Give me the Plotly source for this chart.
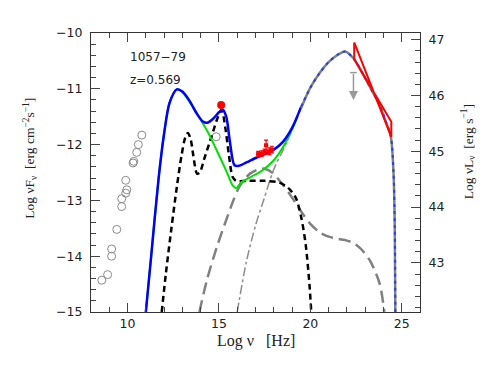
import numpy as np
import plotly.graph_objects as go

# archival radio / IR points (open grey circles)
arch_x = [8.59, 8.91, 9.13, 9.13, 9.41, 9.68, 9.68, 9.90, 9.96, 9.90, 10.30, 10.34, 10.50, 10.59, 10.78, 14.85]
arch_y = [-14.43, -14.33, -14.00, -13.87, -13.52, -13.11, -12.97, -12.87, -12.81, -12.64, -12.33, -12.30, -12.14, -12.00, -11.83, -11.86]

# simultaneous optical/UV point and X-ray spectrum (red)
opt_x = [15.12]
opt_y = [-11.29]
xray_x = [17.15, 17.33, 17.50, 17.58, 17.75, 17.90]
xray_y = [-12.17, -12.16, -12.13, -12.01, -12.12, -12.09]
xray_ex = [0.08, 0.08, 0.08, 0.08, 0.08, 0.08]
xray_ey = [0.05, 0.05, 0.05, 0.09, 0.06, 0.06]

# gamma-ray bowtie and upper limit
lat_x = [22.40, 24.43, 24.43, 22.40, 22.40]
lat_y = [-10.17, -11.86, -11.59, -10.47, -10.17]
ul_x = [22.36]
ul_top = [-10.71]
ul_tip = [-11.20]

# model components
tot_x = np.array([11.0, 11.3, 11.7, 12.0, 12.3, 12.7, 13.0, 13.4, 13.8, 14.1, 14.35, 14.7, 15.0, 15.2, 15.4, 15.6,
                  15.85, 16.1, 16.5, 17.0, 17.5, 18.0, 18.5, 19.0, 19.5, 20.0, 20.5, 21.0, 21.5, 21.9, 22.4, 22.9,
                  23.4, 23.8, 24.1, 24.4, 24.55, 24.62, 24.65])
tot_y = np.array([-15, -13.97, -12.6, -11.8, -11.25, -11.01, -11.05, -11.22, -11.45, -11.58, -11.61, -11.53, -11.42,
                  -11.37, -11.5, -11.95, -12.37, -12.38, -12.32, -12.24, -12.17, -12.09, -11.95, -11.70, -11.32,
                  -10.98, -10.72, -10.52, -10.39, -10.33, -10.47, -10.75, -11.05, -11.3, -11.56, -11.85, -12.5,
                  -13.5, -15])

syn_x = [11.0, 11.3, 11.7, 12.0, 12.3, 12.7, 13.0, 13.4, 13.9, 14.4, 14.9, 15.4, 15.75, 15.95, 16.2, 16.8, 17.3,
         18.0, 18.5, 19.0, 19.3]
syn_y = [-15, -13.97, -12.6, -11.8, -11.25, -11.01, -11.06, -11.24, -11.5, -11.78, -12.12, -12.47, -12.73, -12.78,
         -12.68, -12.57, -12.48, -12.28, -12.05, -11.73, -11.5]

disk_x = [11.87, 12.1, 12.4, 12.7, 12.95, 13.15, 13.3, 13.45, 13.6, 13.8, 13.95, 14.2, 14.6, 14.95, 15.15, 15.35,
          15.55, 15.75, 15.95, 16.5, 17.5, 18.3, 18.8, 19.2, 19.5, 19.75, 19.95, 20.05]
disk_y = [-15, -14.3, -13.5, -12.75, -12.2, -11.88, -11.79, -11.9, -12.2, -12.52, -12.5, -12.25, -11.85, -11.5,
          -11.38, -11.7, -12.2, -12.58, -12.65, -12.65, -12.65, -12.68, -12.78, -12.95, -13.3, -13.8, -14.5, -15]

ssc_x = [13.93, 14.34, 14.88, 15.4, 15.79, 16.16, 16.7, 17.35, 17.9, 18.5, 19.0, 19.5, 20.0, 20.5, 21.0, 21.5,
         22.0, 22.4, 22.8, 23.3, 23.8, 24.05]
ssc_y = [-15, -14.43, -13.84, -13.35, -13.0, -12.73, -12.52, -12.43, -12.5, -12.72, -12.95, -13.2, -13.42, -13.57,
         -13.65, -13.69, -13.72, -13.77, -13.88, -14.1, -14.5, -15]

ec_x = np.array([16.0, 16.5, 17.0, 17.44, 17.98, 18.53, 19.0, 19.5, 20.0, 20.5, 21.0, 21.5, 21.9, 22.4, 22.9, 23.4,
                 23.8, 24.1, 24.4, 24.55, 24.62, 24.65])
ec_y = np.array([-15, -14.1, -13.45, -13.0, -12.46, -12.08, -11.74, -11.34, -10.98, -10.72, -10.52, -10.39, -10.33,
                 -10.47, -10.75, -11.05, -11.3, -11.56, -11.85, -12.5, -13.5, -15])

lum_offset = 57.12  # log(4 pi d_L^2) for z=0.569

fig = go.Figure()

fig.add_trace(go.Scatter(x=arch_x, y=arch_y, mode='markers',
                         marker=dict(symbol='circle-open', size=8, color='#8a8a8a', line=dict(width=1))))

sm = 0.8
fig.add_trace(go.Scatter(x=ssc_x, y=ssc_y, mode='lines', line_shape='spline', line_smoothing=sm,
                         line=dict(color='#808080', width=2.5, dash='12px,6px')))
lo = ec_x <= 19.5
hi = ec_x >= 19.5
fig.add_trace(go.Scatter(x=ec_x[lo], y=ec_y[lo], mode='lines', line_shape='spline', line_smoothing=sm,
                         line=dict(color='#8c8c8c', width=1.5, dash='dashdot')))
fig.add_trace(go.Scatter(x=disk_x, y=disk_y, mode='lines', line_shape='spline', line_smoothing=sm,
                         line=dict(color='black', width=2.5, dash='6px,4px')))
fig.add_trace(go.Scatter(x=syn_x, y=syn_y, mode='lines', line_shape='spline', line_smoothing=sm,
                         line=dict(color='#00e000', width=2)))
t_lo = tot_x <= 19.6
t_hi = tot_x >= 19.5
fig.add_trace(go.Scatter(x=tot_x[t_lo], y=tot_y[t_lo], mode='lines', line_shape='spline', line_smoothing=sm,
                         line=dict(color='#0000ff', width=2.5)))
fig.add_trace(go.Scatter(x=ec_x[hi], y=ec_y[hi], mode='lines', line_shape='spline', line_smoothing=sm,
                         line=dict(color='#808080', width=2.5)))
fig.add_trace(go.Scatter(x=tot_x[t_hi], y=tot_y[t_hi], mode='lines', line_shape='spline', line_smoothing=sm,
                         line=dict(color='#1f3fff', width=2, dash='3px,4px')))

# data
fig.add_trace(go.Scatter(x=opt_x, y=opt_y, mode='markers', marker=dict(color='red', size=8)))
fig.add_trace(go.Scatter(x=xray_x, y=xray_y, mode='markers', marker=dict(color='red', size=4),
                         error_x=dict(array=xray_ex, color='red', thickness=1.2, width=2),
                         error_y=dict(array=xray_ey, color='red', thickness=1.2, width=2)))
fig.add_trace(go.Scatter(x=lat_x, y=lat_y, mode='lines', line=dict(color='red', width=2)))
# upper limit: cap + arrow
fig.add_trace(go.Scatter(x=[ul_x[0] - 0.18, ul_x[0] + 0.18], y=[ul_top[0], ul_top[0]], mode='lines',
                         line=dict(color='#999999', width=1.5)))
fig.add_annotation(x=ul_x[0], y=ul_tip[0], ax=ul_x[0], ay=ul_top[0], xref='x', yref='y', axref='x', ayref='y',
                   showarrow=True, arrowhead=2, arrowsize=1.2, arrowwidth=1.5, arrowcolor='#999999', text='')

# dummy trace so the luminosity axis is drawn
fig.add_trace(go.Scatter(x=[None], y=[None], yaxis='y2'))

fig.add_annotation(x=10.0, y=-10.43, xref='x', yref='y', text='1057\u221279', showarrow=False, xanchor='left',
                   font=dict(family='DejaVu Sans', size=12, color='#222'))
fig.add_annotation(x=10.0, y=-10.84, xref='x', yref='y', text='z=0.569', showarrow=False, xanchor='left',
                   font=dict(family='DejaVu Sans', size=12, color='#222'))

# axis titles
serif = dict(family='Liberation Serif', size=13.5, color='#222')
fig.add_annotation(x=-0.185, y=0.55, xref='paper', yref='paper', showarrow=False, textangle=-90,
                   xanchor='center', yanchor='middle',
                   text='Log \u03bdF<sub>\u03bd</sub>  [erg cm<sup>\u22122</sup>s<sup>\u22121</sup>]', font=serif)
fig.add_annotation(x=1.146, y=0.573, xref='paper', yref='paper', showarrow=False, textangle=-90,
                   xanchor='center', yanchor='middle',
                   text='Log \u03bdL<sub>\u03bd</sub>  [erg s<sup>\u22121</sup>]', font=serif)
fig.add_annotation(x=0.5, y=-0.105, xref='paper', yref='paper', showarrow=False,
                   xanchor='center', yanchor='middle',
                   text='Log \u03bd   [Hz]', font=dict(family='Liberation Serif', size=16, color='#222'))

tickfont = dict(family='DejaVu Sans', size=12.5, color='#222')
axcommon = dict(showgrid=False, zeroline=False, showline=True, linecolor='#333', linewidth=1.2, automargin=False,
                ticks='inside', ticklen=9, tickcolor='#444', tickwidth=1.2, tickfont=tickfont)

fig.update_layout(
    width=491, height=382,
    margin=dict(l=91, r=71, t=33, b=70, autoexpand=False),
    paper_bgcolor='white', plot_bgcolor='white',
    showlegend=False,
    xaxis=dict(range=[8, 26], tick0=0, dtick=5, mirror='ticks',
               minor=dict(dtick=1, ticklen=5, ticks='inside', tickcolor='#444'), **axcommon),
    yaxis=dict(range=[-15, -10], tick0=0, dtick=1, ticklabelstandoff=5,
               minor=dict(dtick=0.2, ticklen=5, ticks='inside', tickcolor='#444'), **axcommon),
    yaxis2=dict(overlaying='y', side='right', range=[-15 + lum_offset, -10 + lum_offset], tick0=0, dtick=1,
                ticklabelstandoff=5,
                minor=dict(dtick=0.2, ticklen=5, ticks='inside', tickcolor='#444'), **axcommon),
)

# remove the default page margin so the figure sits at the window's corner
fig.write_html("out.html", config={'displayModeBar': False},
               post_script="document.body.style.margin='0px';")
